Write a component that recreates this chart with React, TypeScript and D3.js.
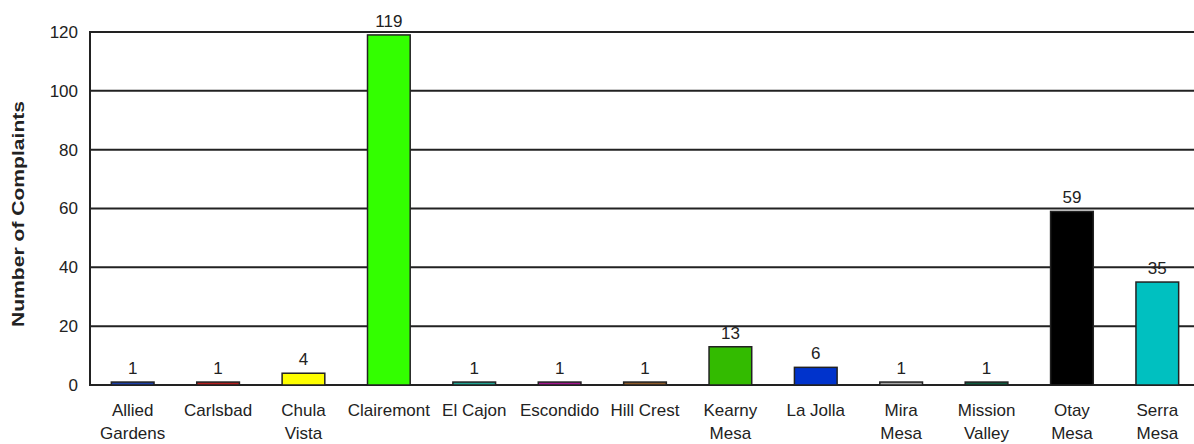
import React, { useEffect, useRef } from 'react';
import * as d3 from 'd3';

const categories = [
  'Allied Gardens', 'Carlsbad', 'Chula Vista', 'Clairemont', 'El Cajon', 'Escondido',
  'Hill Crest', 'Kearny Mesa', 'La Jolla', 'Mira Mesa', 'Mission Valley', 'Otay Mesa', 'Serra Mesa',
];
const labelLines = [
  ['Allied', 'Gardens'], ['Carlsbad'], ['Chula', 'Vista'], ['Clairemont'], ['El Cajon'], ['Escondido'],
  ['Hill Crest'], ['Kearny', 'Mesa'], ['La Jolla'], ['Mira', 'Mesa'], ['Mission', 'Valley'], ['Otay', 'Mesa'], ['Serra', 'Mesa'],
];
const complaints = [1, 1, 4, 119, 1, 1, 1, 13, 6, 1, 1, 59, 35];
const barColors = [
  '#1c3fa8', '#b41e1e', '#ffff00', '#33ff00', '#1fa391', '#a3168f', '#8c5a2a',
  '#33bb00', '#0033cc', '#a6a6a6', '#0e5a3e', '#000000', '#00c0c0',
];
const yTicks = [0, 20, 40, 60, 80, 100, 120];

const App = () => {
  const ref = useRef<SVGSVGElement>(null);

  useEffect(() => {
    const svg = d3.select(ref.current);
    svg.selectAll('*').remove();

    const left = 90, right = 1200, top = 32, bottom = 385;
    const font = '"Liberation Sans", Arial, sans-serif';

    const x = d3.scaleBand<string>().domain(categories).range([left, right]).paddingInner(0.5).paddingOuter(0.25);
    const y = d3.scaleLinear().domain([0, 120]).range([bottom, top]);

    // gridlines
    svg.append('g')
      .selectAll('line')
      .data(yTicks)
      .join('line')
      .attr('x1', left)
      .attr('x2', right)
      .attr('y1', d => y(d))
      .attr('y2', d => y(d))
      .attr('stroke', '#222')
      .attr('stroke-width', 2);

    // left axis line
    svg.append('line')
      .attr('x1', left).attr('x2', left)
      .attr('y1', top - 1).attr('y2', bottom + 1)
      .attr('stroke', '#222').attr('stroke-width', 2);

    // y tick labels
    svg.append('g')
      .selectAll('text')
      .data(yTicks)
      .join('text')
      .attr('x', left - 12)
      .attr('y', d => y(d))
      .attr('dy', '0.35em')
      .attr('text-anchor', 'end')
      .attr('font-family', font)
      .attr('font-size', 17)
      .attr('fill', '#222')
      .text(d => d);

    // y title
    svg.append('text')
      .attr('transform', `translate(24,214) rotate(-90)`)
      .attr('text-anchor', 'middle')
      .attr('font-family', font)
      .attr('font-size', 17)
      .attr('font-weight', 'bold')
      .attr('fill', '#222')
      .attr('textLength', 226)
      .attr('lengthAdjust', 'spacingAndGlyphs')
      .text('Number of Complaints');

    // bars
    svg.append('g')
      .selectAll('rect')
      .data(complaints)
      .join('rect')
      .attr('x', (d, i) => x(categories[i])!)
      .attr('y', d => y(d))
      .attr('width', x.bandwidth())
      .attr('height', d => y(0) - y(d))
      .attr('fill', (d, i) => barColors[i])
      .attr('stroke', '#222')
      .attr('stroke-width', 1.5);

    // value labels
    svg.append('g')
      .selectAll('text')
      .data(complaints)
      .join('text')
      .attr('x', (d, i) => x(categories[i])! + x.bandwidth() / 2)
      .attr('y', d => y(d) - 8)
      .attr('text-anchor', 'middle')
      .attr('font-family', font)
      .attr('font-size', 17)
      .attr('fill', '#222')
      .text(d => d);

    // category labels
    const cat = svg.append('g')
      .selectAll('text')
      .data(labelLines)
      .join('text')
      .attr('x', (d, i) => x(categories[i])! + x.bandwidth() / 2)
      .attr('y', bottom + 31)
      .attr('text-anchor', 'middle')
      .attr('font-family', font)
      .attr('font-size', 17)
      .attr('fill', '#222');
    cat.selectAll('tspan')
      .data(d => d)
      .join('tspan')
      .attr('x', function () { return (this.parentNode as SVGTextElement).getAttribute('x'); })
      .attr('dy', (d, i) => (i === 0 ? 0 : 23))
      .text(d => d);
  }, []);

  return (
    <div style={{ position: 'absolute', left: 0, top: 0 }}>
      <svg ref={ref} width={1194} height={444} style={{ display: 'block', background: '#fff' }} />
    </div>
  );
};

export default App;
